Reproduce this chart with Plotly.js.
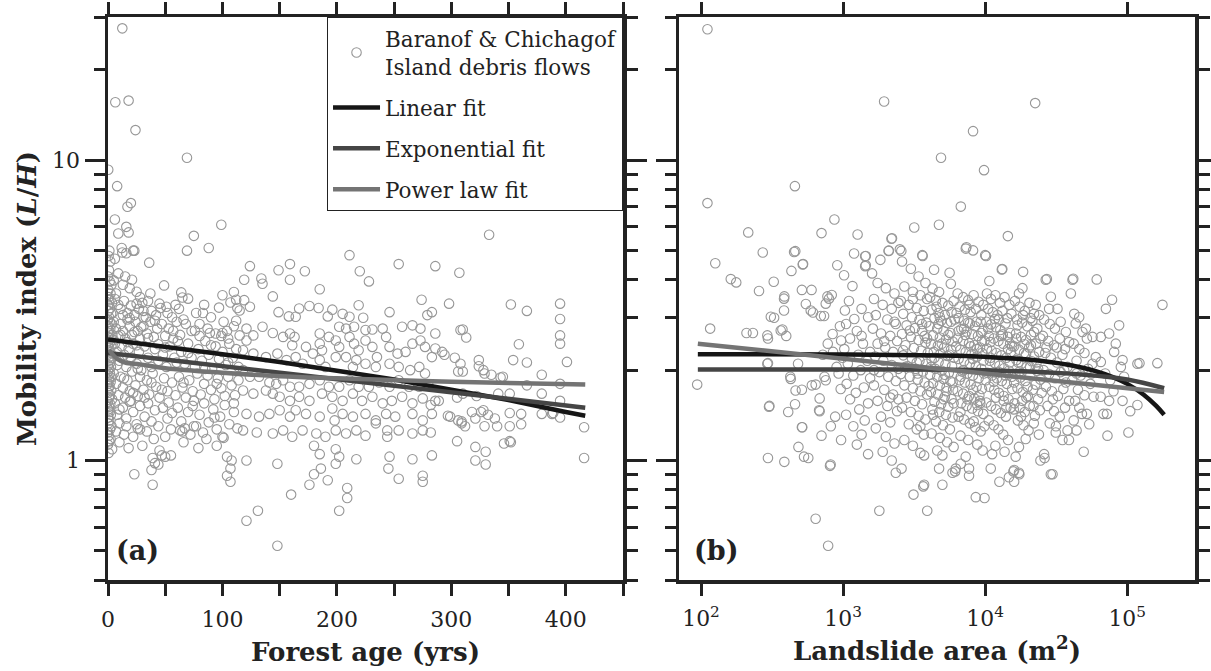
<!DOCTYPE html>
<html>
<head>
<meta charset="utf-8">
<script src="https://cdn.plot.ly/plotly-3.0.1.min.js"></script>
<style>html,body{margin:0;padding:0;background:#fff;}#chart{width:1211px;height:671px;}</style>
</head>
<body>
<div id="chart"></div>
<script>
// ---------- Panel (a): forest age (yrs) vs mobility index L/H ----------
const ageZeroStand = [[0.2,9.3],[1.2,5.0],[0.5,4.8],[2,4.6],[0.8,4.3],[0,4.1],[1.5,3.95],[3,3.85],[0.3,3.7],[2.2,3.6],[0.6,3.5],[1,3.42],[3.5,3.35],[0,3.3],[1.8,3.22],[0.4,3.15],[2.7,3.08],[0.9,3.0],[0,2.95],[1.5,2.9],[3.2,2.85],[0.2,2.8],[2,2.75],[0.7,2.7],[1.2,2.65],[3.8,2.62],[0,2.58],[2.4,2.55],[0.5,2.5],[1.6,2.47],[0.1,2.42],[2.9,2.4],[1,2.36],[0.3,2.32],[2.1,2.29],[0,2.25],[1.4,2.22],[3.3,2.19],[0.6,2.15],[1.9,2.12],[0.2,2.08],[2.6,2.05],[1.1,2.02],[0,1.98],[1.7,1.95],[0.4,1.92],[3,1.89],[0.8,1.86],[2.3,1.83],[0,1.8],[1.3,1.77],[0.5,1.74],[2.8,1.71],[0.1,1.68],[1.6,1.65],[0.7,1.62],[3.6,1.6],[0,1.57],[2,1.54],[0.9,1.51],[0.3,1.48],[1.5,1.45],[2.5,1.42],[0,1.39],[1,1.36],[0.4,1.33],[3.1,1.3],[1.8,1.27],[0,1.24],[0.6,1.21],[2.2,1.18],[1.1,1.16],[0,1.13],[3.6,1.09],[0.5,1.06]];
const youngStand = [[12.5,27.5],[6.4,15.6],[18,15.8],[24,12.6],[8,8.2],[20,7.2],[17,7.0],[6,6.35],[16,6.0],[18,5.75],[9,5.7],[23,5.0],[12.5,4.93],[36,4.56],[49,3.83],[12,5.1],[16,4.9],[22,5.0],[6,4.7],[9,4.2],[15,4.1],[21,4.0],[5,3.98],[13,3.85],[19,3.75],[25,3.65],[37,3.6],[28,3.5],[35,3.4],[45,3.33],[51,3.25],[25,3.33],[31,3.15],
[6,3.45],[9,3.3],[11,3.2],[14,3.4],[17,3.1],[20,3.28],[23,3.05],[27,3.2],[30,3.35],[33,3.0],[38,3.15],[42,3.05],[46,3.22],[52,3.1],[56,3.0],[59,3.3],
[5,2.9],[7,2.75],[9,2.6],[11,2.85],[13,2.7],[15,2.55],[17,2.95],[19,2.8],[21,2.62],[24,2.9],[26,2.7],[28,2.55],[31,2.8],[34,2.65],[37,2.9],[40,2.58],[43,2.75],[47,2.85],[50,2.6],[53,2.75],[57,2.55],[60,2.9],
[6,2.45],[8,2.3],[10,2.15],[12,2.4],[14,2.25],[16,2.05],[18,2.35],[20,2.2],[22,2.45],[25,2.1],[27,2.3],[29,2.0],[32,2.4],[35,2.2],[38,2.05],[41,2.35],[44,2.15],[48,2.25],[51,2.05],[54,2.4],[58,2.2],
[5,1.95],[7,1.8],[9,1.65],[11,1.9],[13,1.75],[15,1.62],[17,1.85],[19,1.7],[21,1.98],[24,1.78],[26,1.64],[28,1.9],[31,1.72],[34,1.85],[36,1.66],[39,1.95],[42,1.76],[45,1.62],[49,1.88],[52,1.7],[56,1.82],[59,1.65],
[6,1.55],[8,1.42],[10,1.33],[13,1.5],[16,1.38],[19,1.57],[22,1.45],[25,1.32],[28,1.52],[32,1.4],[35,1.55],[38,1.35],[41,1.47],[44,1.3],[48,1.5],[52,1.38],[56,1.44],
[7,1.25],[10,1.15],[14,1.22],[18,1.1],[22,1.2],[26,1.28],[30,1.12],[34,1.25],[40,1.18],[45,1.08],[50,1.2],[55,1.27],
[23,0.9],[38,0.93],[39,0.83],[44,0.97],[50,1.03],[55,1.04],[39,1.02],[41,0.98],[47,1.04],
[5,2.52],[8,2.08],[11,2.62],[14,1.88],[17,2.48],[20,1.58],[23,2.68],[26,2.02],[29,2.78],[32,1.62],[35,2.56],[38,1.82],[41,2.92],[44,2.44],[47,1.72],[50,2.38],[53,1.56],[57,2.7],[4,3.1],[7,3.6],[10,1.48],[13,3.05],[16,1.3],[19,2.98],[22,1.68],[25,2.42],[28,1.27],[31,3.0]];
const midStand = [[69,10.2],[99,6.1],[75,5.6],[88,5.1],[69,5.0],[64,3.63],[65,3.49],[100,3.55],[110,3.64],[112,3.43],
[62,3.2],[66,2.95],[70,3.46],[73,2.7],[77,3.1],[80,2.85],[84,3.3],[83,3.1],[87,2.75],[90,3.0],[94,2.65],[97,3.23],[101,2.9],[104,2.7],[107,3.36],[110,2.8],[113,3.22],[76,2.71],[89,2.66],[99,2.6],[68,2.85],[105,2.55],[112,2.92],
[61,2.5],[64,2.3],[67,2.1],[70,2.45],[73,2.2],[76,2.05],[79,2.35],[82,2.15],[85,2.5],[88,2.25],[91,2.02],[94,2.4],[97,2.18],[100,2.3],[103,2.08],[106,2.45],[109,2.2],[112,2.35],[114,2.05],
[62,1.9],[65,1.75],[68,1.62],[71,1.85],[74,1.7],[78,1.95],[81,1.66],[84,1.8],[87,1.92],[90,1.72],[93,1.6],[96,1.88],[99,1.74],[102,1.64],[105,1.9],[108,1.78],[111,1.65],[114,1.85],
[61,1.5],[64,1.35],[67,1.28],[70,1.45],[74,1.52],[77,1.3],[80,1.42],[84,1.55],[88,1.34],[92,1.48],[95,1.27],[98,1.4],[102,1.53],[106,1.32],[110,1.45],[113,1.28],
[66,1.15],[72,1.22],[79,1.1],[86,1.18],[95,1.12],[100,1.2],[104,1.03],[107,0.94],[104,0.89],[107,0.85],[108,1.0],[65,1.25],[63,1.26],[75,1.3],[83,1.24],[93,1.39],[101,1.19],
[60,2.12],[63,2.62],[66,1.82],[70,2.28],[75,1.58],[80,2.6],[85,2.02],[90,2.42],[95,1.8],[100,2.66],[105,2.12],[110,1.55]];
const matureStand = [[124,4.44],[119,4.00],[134,4.04],[135,3.88],[149,4.30],[159,4.51],[159,4.00],[172,4.27],[211,4.83],[220,4.27],[228,3.95],[254,4.51],[286,4.44],[185,3.72],[144,3.52],[274,3.43],[246,3.12],[119,3.42],[124,3.25],[115,3.16],[149,3.12],[158,3.02],[167,3.21],[176,3.27],[184,3.22],[164,3.01],[192,3.02],[196,3.18],[205,3.08],[211,3.01],[219,3.29],[223,2.99],[202,2.79],[208,2.75],[215,2.79],[225,2.72],[231,2.73],[240,2.75],[257,2.79],[266,2.82],[273,2.75],[279,3.05],[283,3.12],[286,2.65],
[135,2.79],[144,2.66],[127,2.61],[121,2.51],[121,2.75],[115,2.61],[153,2.58],[159,2.65],[163,2.58],[161,2.42],[173,2.39],[179,2.27],[185,2.65],[185,2.45],[187,2.33],[193,2.58],[199,2.51],[202,2.39],[211,2.58],[215,2.45],[219,2.33],[225,2.51],[231,2.39],[235,2.21],[243,2.58],[246,2.39],[253,2.27],[260,2.30],[266,2.45],[273,2.51],[277,2.39],[283,2.21],[286,2.36],
[118,2.33],[127,2.27],[138,2.21],[148,2.27],[156,2.16],[164,2.21],[170,2.10],[185,2.16],[190,2.05],[199,2.21],[208,2.21],[217,2.16],[214,2.05],[225,2.10],[234,2.05],[246,2.10],[254,2.05],[264,2.00],[272,2.05],[277,1.95],
[118,2.00],[124,1.90],[132,1.90],[141,1.82],[147,1.80],[153,1.85],[159,1.76],[167,1.76],[176,1.80],[185,1.85],[193,1.76],[202,1.76],[211,1.85],[219,1.76],[228,1.76],[237,1.82],[246,1.76],[254,1.85],[263,1.76],[272,1.76],[280,1.78],[286,1.58],
[118,1.71],[127,1.67],[138,1.71],[144,1.67],[150,1.63],[159,1.58],[167,1.63],[176,1.58],[187,1.67],[196,1.63],[205,1.58],[214,1.67],[222,1.58],[231,1.63],[240,1.55],[248,1.58],[257,1.63],[266,1.55],[275,1.61],[282,1.53],
[121,1.43],[132,1.40],[141,1.43],[150,1.47],[159,1.40],[164,1.47],[173,1.43],[185,1.40],[196,1.49],[198,1.36],[205,1.43],[214,1.40],[225,1.43],[234,1.36],[243,1.43],[251,1.40],[266,1.43],[275,1.36],[283,1.43],
[118,1.26],[130,1.24],[144,1.23],[153,1.26],[161,1.20],[170,1.26],[182,1.23],[190,1.20],[199,1.26],[208,1.23],[217,1.26],[225,1.21],[234,1.33],[244,1.26],[244,1.20],[254,1.26],[266,1.23],[275,1.26],[282,1.24],
[121,1.00],[148,0.975],[180,1.12],[185,1.05],[199,1.09],[202,1.03],[217,1.01],[246,1.03],[266,1.01],[283,1.04],[180,0.90],[186,0.94],[192,0.86],[199,0.975],[176,0.83],[160,0.77],[209,0.81],[209,0.75],[254,0.87],[275,0.89],[275,0.85],[245,0.94],
[131,0.68],[121,0.63],[202,0.68],[148,0.52]];
const oldStand = [[333,5.65],[307,4.22],[298,3.33],[352,3.31],[366,3.15],[395,3.33],[395,2.96],[395,2.61],[395,2.45],[308,2.72],[313,2.57],[359,2.44],[401,2.13],[354,2.16],[366,2.12],[292,2.3],[294,2.25],[303,2.2],[308,2.1],[306,1.98],[310,1.98],[324,2.16],[324,2.06],[328,2.0],[329,1.95],[335,1.93],[345,1.9],[379,1.93],[366,1.78],[395,1.8],[289,1.58],[305,1.62],[310,1.67],[322,1.64],[341,1.67],[351,1.67],[379,1.67],[395,1.58],[299,1.4],[306,1.36],[309,1.33],[312,1.3],[318,1.45],[326,1.45],[328,1.47],[332,1.42],[338,1.38],[340,1.3],[329,1.3],[321,1.38],[351,1.44],[351,1.3],[361,1.43],[361,1.32],[379,1.43],[388,1.43],[395,1.39],[416,1.29],[416,1.02],[305,1.16],[351,1.16],[321,1.11],[330,1.07],[321,1.0],[330,0.97],[310,2.73],[343,1.89],[346,1.14],[352,1.15],[309,1.35],[297,1.41],[389,1.44]];

// fitted curves, panel (a)
const linFitAge = [0,50,100,150,200,250,300,350,400,417];
const linFitMob = [2.53,2.40,2.26,2.13,1.99,1.86,1.72,1.59,1.45,1.41];
const expFitAge = [0,100,200,300,417];
const expFitMob = [2.28,2.06,1.87,1.69,1.50];
const powFitAge = [1,3,8,15,28,50,100,150,200,300,417];
const powFitMob = [2.34,2.28,2.18,2.12,2.09,2.03,1.96,1.91,1.88,1.83,1.79];

// ---------- Panel (b): landslide area (m2) vs mobility index ----------
const smallSlides = [[111,27.3],[458,8.2],[111,7.2],[869,6.35],[215,5.75],[705,5.72],[126,4.54],[272,4.93],[461,4.98],[520,4.5],[433,4.28],[910,4.47],[162,4.02],[177,3.92],[256,3.67],[325,3.94],[386,3.52],[513,3.7],[600,3.7],[796,3.46],[116,2.75],[209,2.66],[232,2.66],[296,2.55],[310,3.01],[374,2.73],[398,2.6],[547,3.32],[614,3.11],[844,2.64],[969,2.51],[296,2.11],[94,1.79],[303,1.52],[425,1.9],[482,2.1],[513,1.72],[411,1.45],[603,1.78],[684,1.61],[684,1.46],[513,1.29],[485,1.11],[705,1.21],[968,1.17],[296,1.02],[386,0.99],[569,1.02],[817,0.97],[641,0.64],[785,0.52],
[452,4.95],[523,4.51],[384,3.46],[384,3.16],[327,2.99],[293,2.61],[364,2.71],[592,3.16],[697,3.03],[735,3.03],[776,3.52],[832,3.56],[755,3.33],[293,2.1],[428,1.87],[463,1.71],[641,1.79],[755,1.85],[962,1.73],[678,1.47],[459,1.54],[301,1.51],[516,1.29],[531,1.03],[809,0.96],[850,2.3],[900,2.05],[780,2.45],[930,1.95],[880,1.4],[720,2.25],[950,2.8],[820,1.3],[990,2.2],[740,1.9]];
const slides1e3 = [[1016,4.14],[1164,3.81],[1430,4.44],[1195,4.89],[1430,4.79],[1265,5.66],[1445,4.8],[1445,4.47],[1030,3.16],[1200,2.96],[1100,3.4],[1350,3.2],[1050,2.85],[1250,2.7],[1500,3.0],[1120,2.55],[1380,2.45],[1020,2.35],[1280,2.25],[1480,2.15],[1080,2.1],[1330,2.0],[1180,1.92],[1550,1.88],[1060,1.8],[1400,1.75],[1230,1.68],[1120,1.6],[1500,1.55],[1300,1.48],[1050,1.42],[1420,1.36],[1180,1.3],[1350,1.22],[1250,1.13],[1500,1.05],
[1945,15.7],[2210,5.5],[1830,4.66],[2100,5.0],[2190,5.48],[2090,4.99],[1600,4.2],[1750,3.9],[2000,3.75],[2300,3.6],[1650,3.45],[1900,3.3],[2200,3.2],[2450,3.35],[1700,3.05],[2050,2.95],[2350,2.85],[1620,2.75],[1850,2.65],[2150,2.6],[2400,2.5],[1750,2.45],[1980,2.38],[2250,2.3],[1680,2.22],[1920,2.15],[2200,2.08],[2450,2.02],[1800,1.97],[2080,1.9],[2350,1.84],[1650,1.78],[1950,1.72],[2250,1.66],[1750,1.58],[2050,1.52],[2400,1.46],[1850,1.4],[2150,1.34],[1700,1.28],[2000,1.2],[2300,1.14],[1900,1.07],[2350,0.91],[1800,0.68],[2200,1.0]];
const slides3e3 = [[3170,5.97],[2510,5.05],[3630,4.8],[3610,4.83],[2570,4.99],[2600,4.6],[3000,4.35],[3400,4.1],[3800,3.9],[2700,3.8],[3100,3.65],[3500,3.55],[3900,3.45],[2550,3.4],[2900,3.3],[3300,3.22],[3700,3.15],[2650,3.08],[3050,3.0],[3450,2.94],[3850,2.88],[2800,2.82],[3200,2.76],[3600,2.7],[2600,2.64],[3000,2.58],[3400,2.52],[3800,2.47],[2750,2.42],[3150,2.37],[3550,2.32],[3950,2.28],[2650,2.24],[3050,2.19],[3450,2.15],[3850,2.1],[2850,2.06],[3250,2.02],[3650,1.98],[2550,1.94],[2950,1.9],[3350,1.86],[3750,1.82],[2700,1.78],[3100,1.74],[3500,1.7],[3900,1.66],[2800,1.62],[3200,1.58],[3600,1.54],[2600,1.5],[3000,1.45],[3400,1.41],[3800,1.37],[2900,1.32],[3300,1.27],[3700,1.22],[2700,1.17],[3100,1.12],[3500,1.06],[2580,0.94],[3130,0.77],[3670,0.82],[3910,0.68],[3720,1.04],[3720,0.83],
[4890,10.2],[4730,6.1],[4370,4.32],[5620,4.22],[5730,3.88],[4260,3.74],[4740,3.64],[6150,0.92],[5000,0.83],[5000,1.04],[4740,0.94],[5890,0.91],[6210,0.94],
[4100,3.5],[4500,3.42],[5000,3.35],[5500,3.28],[6000,3.4],[4200,3.18],[4700,3.1],[5200,3.05],[5800,3.12],[4400,2.98],[4900,2.92],[5400,2.87],[6100,2.95],[4050,2.8],[4600,2.75],[5100,2.7],[5700,2.66],[4300,2.61],[4800,2.57],[5300,2.53],[5900,2.49],[4150,2.45],[4650,2.41],[5150,2.38],[5750,2.34],[4350,2.3],[4850,2.27],[5450,2.23],[6050,2.2],[4200,2.16],[4700,2.13],[5250,2.09],[5850,2.06],[4450,2.02],[4950,1.99],[5550,1.96],[4100,1.93],[4600,1.9],[5100,1.87],[5700,1.84],[4300,1.81],[4800,1.78],[5350,1.75],[5950,1.72],[4150,1.69],[4650,1.66],[5200,1.63],[5800,1.6],[4400,1.57],[4900,1.54],[5500,1.51],[4250,1.48],[4750,1.45],[5300,1.42],[5900,1.39],[4500,1.35],[5050,1.31],[5650,1.27],[4200,1.23],[4800,1.19],[5400,1.15],[6000,1.11],[4600,1.08]];
const slides1e4 = [[8220,12.5],[9820,9.27],[6740,7.01],[7380,5.13],[8220,5.01],[7310,5.08],[9900,0.75],[8590,0.755],[7700,0.94],[6730,0.975],[7700,0.89],
[6400,3.6],[7000,3.5],[7600,3.42],[8300,3.55],[9000,3.38],[9700,3.3],[6600,3.25],[7200,3.18],[7900,3.12],[8600,3.2],[9400,3.05],[6500,2.98],[7100,2.92],[7800,2.86],[8500,2.8],[9300,2.9],[6800,2.74],[7400,2.69],[8100,2.64],[8900,2.6],[9600,2.7],[6400,2.55],[7000,2.5],[7700,2.46],[8400,2.42],[9200,2.38],[9900,2.5],[6700,2.34],[7300,2.3],[8000,2.26],[8800,2.22],[9500,2.28],[6500,2.18],[7100,2.14],[7800,2.1],[8600,2.06],[9400,2.02],[6900,1.98],[7500,1.95],[8200,1.92],[9000,1.88],[9800,1.95],[6600,1.85],[7200,1.82],[7900,1.79],[8700,1.76],[9500,1.73],[6400,1.7],[7000,1.67],[7700,1.64],[8400,1.61],[9200,1.58],[6800,1.55],[7400,1.52],[8100,1.49],[8900,1.46],[9700,1.43],[6500,1.4],[7100,1.37],[7800,1.33],[8500,1.29],[9300,1.25],[6700,1.21],[7600,1.17],[8800,1.13],[9600,1.08],[7300,1.03],
[10000,4.83],[10140,4.8],[13200,4.34],[13100,4.33],[14450,5.59],[10700,3.96],[12600,0.85],[11200,1.05],[10950,0.94],[14700,0.88],
[10300,3.6],[11000,3.45],[11800,3.55],[12700,3.35],[13700,3.5],[14800,3.3],[10500,3.2],[11300,3.12],[12200,3.05],[13200,3.15],[14300,2.98],[15300,3.08],[10200,2.9],[11000,2.84],[11900,2.78],[12800,2.72],[13900,2.86],[15000,2.66],[10600,2.6],[11500,2.55],[12400,2.5],[13400,2.45],[14500,2.58],[15500,2.4],[10300,2.36],[11100,2.32],[12000,2.28],[13000,2.24],[14100,2.2],[15200,2.3],[10800,2.15],[11700,2.11],[12600,2.07],[13600,2.03],[14700,1.99],[10400,1.96],[11200,1.92],[12100,1.88],[13100,1.84],[14200,1.8],[15400,1.9],[10700,1.76],[11600,1.72],[12500,1.68],[13500,1.64],[14600,1.6],[10200,1.56],[11000,1.52],[11900,1.48],[12900,1.44],[14000,1.4],[15100,1.5],[10600,1.36],[11500,1.31],[12400,1.27],[13400,1.22],[14500,1.17],[11800,1.12],[13700,1.07]];
const slides2e4 = [[22500,15.5],[18500,4.25],[18300,3.75],[17300,3.6],[22700,3.3],[22100,3.08],[24000,3.05],[19300,1.18],[17300,1.11],[16400,1.03],[16000,0.93],[17300,0.91],[24500,1.0],[26200,1.02],[26000,1.05],[17400,0.9],[16000,0.85],[15800,0.92],
[16200,3.4],[17500,3.25],[19000,3.15],[20500,3.35],[16800,2.95],[18200,2.88],[19800,2.8],[21500,2.92],[23300,2.75],[16500,2.65],[17900,2.58],[19400,2.52],[21000,2.62],[22800,2.45],[24500,2.55],[16000,2.4],[17300,2.34],[18800,2.28],[20400,2.38],[22100,2.22],[24000,2.3],[16600,2.16],[18000,2.1],[19600,2.05],[21300,2.14],[23100,1.99],[16300,1.94],[17700,1.89],[19200,1.84],[20800,1.92],[22600,1.79],[24500,1.86],[16900,1.74],[18400,1.69],[20000,1.64],[21700,1.72],[23600,1.6],[16100,1.55],[17500,1.5],[19000,1.45],[20600,1.52],[22400,1.41],[24300,1.47],[17000,1.36],[18600,1.31],[20200,1.26],[22000,1.33],[23900,1.22],
[27200,4.02],[26700,4.0],[29000,3.51],[28200,3.2],[32300,3.2],[40100,3.6],[38900,1.17],[35000,1.17],[31400,1.24],[38000,1.26],[29000,0.9],[29800,0.9],
[26000,2.95],[28500,2.85],[31000,2.75],[34000,2.9],[37000,2.68],[25500,2.6],[27800,2.5],[30500,2.42],[33500,2.55],[36500,2.35],[39000,2.48],[26500,2.28],[29000,2.2],[32000,2.12],[35000,2.25],[38000,2.05],[25800,2.0],[28200,1.94],[31000,1.88],[34000,1.97],[37000,1.82],[26800,1.76],[29500,1.7],[32500,1.64],[35500,1.73],[39000,1.58],[27500,1.52],[30500,1.46],[33500,1.4],[36500,1.5],[28500,1.33],[31500,1.3]];
const coreSlidesExtra = [[2300,2.9],[2650,2.33],[2950,2.71],[3350,1.95],[3750,2.6],[4150,2.05],[4550,3.25],[4950,2.45],[5350,1.7],[5750,2.9],[6250,2.4],[6750,1.9],[7250,2.62],[7750,3.3],[8250,1.72],[8750,2.35],[9250,1.55],[9750,2.15],[10500,2.75],[11500,1.83],[12500,2.95],[13500,1.58],[14500,2.35],[15500,1.73],[16500,2.55],[17500,1.98],[18500,3.05],[19500,1.62],[21000,2.42],[23000,2.12],[25000,1.68],[27000,2.38],[3100,3.45],[3500,1.3],[3900,2.55],[4300,1.42],[4700,2.85],[5100,1.6],[5500,2.62],[5900,1.82],[6300,3.1],[6700,1.45],[7100,2.75],[7500,1.6],[7900,2.4],[8300,1.35],[8700,2.9],[9100,1.65],[9500,2.5],[9900,1.3],[10900,2.2],[11900,1.62],[12900,2.6],[13900,1.92],[14900,2.12],[15900,1.48],[16900,2.82],[17900,1.4],[18900,2.44],[19900,1.76],[20900,2.98],[21900,1.52],[3300,2.12],[3600,2.85],[4000,1.77],[4400,2.2],[4800,3.0],[5200,1.93],[5600,2.25],[6000,1.55],[6500,2.7],[7000,2.0],[7600,2.88],[8200,2.18],[8800,1.53],[9400,2.66],[10100,1.85],[10900,2.48],[11700,2.96],[12500,1.97],[13300,2.63],[14100,1.5],[15000,2.45],[16000,1.82],[17100,2.12],[18200,1.58],[19400,2.26],[20700,2.05],[22100,2.68],[23600,2.02],[2450,1.6],[2750,2.05],[1950,2.5],[2150,1.62],[1650,2.0],[1350,2.6],[1550,2.3],[32000,2.38],[36000,2.0],[30000,1.6],[44000,1.95],[52000,2.55]];
const largeSlides = [[41700,4.03],[41200,4.0],[42400,3.08],[45900,3.0],[43400,2.86],[51200,2.75],[48400,2.68],[57000,2.58],[60100,2.21],[57000,2.1],[49400,1.07],[61000,4.01],[56000,1.95],
[42000,2.45],[46000,2.35],[50000,2.28],[44000,2.15],[53000,2.02],[47000,1.92],[41000,1.85],[55000,1.8],[45000,1.72],[50000,1.65],[43000,1.58],[58000,1.63],[48000,1.43],[52000,1.43],[46000,1.5],[42000,1.36],[54000,1.32],[44000,1.26],
[78200,3.43],[70800,3.2],[177000,3.3],[87700,2.82],[65200,2.58],[74600,2.65],[83100,2.45],[80900,2.3],[92700,2.16],[118000,2.1],[163000,2.11],[122000,2.11],[90200,2.05],[65200,2.13],[70000,1.95],[76000,1.85],[92700,1.58],[118000,1.53],[74600,1.58],[65000,1.63],[68000,1.43],[72000,1.43],[72600,1.21],[102000,1.24],[80000,1.7],[95000,1.9],[105000,1.46]];

// fitted curves, panel (b)
const linFitArea = [95,1000,5000,10000,20000,40000,60000,80000,100000,130000,160000,182000];
const linFitMobB = [2.26,2.255,2.237,2.214,2.168,2.076,1.984,1.892,1.80,1.66,1.52,1.42];
const expFitArea = [95,1000,10000,50000,100000,182000];
const expFitMobB = [2.01,2.01,2.0,1.93,1.86,1.74];
const powFitArea = [95,1000,10000,100000,182000];
const powFitMobB = [2.45,2.18,1.95,1.74,1.69];

// axis ticks
const majorMobTicks = [1, 10];
const majorMobLabels = ['1', '10'];
const minorMobTicks = [0.4,0.5,0.6,0.7,0.8,0.9,2,3,4,5,6,7,8,9,20,30];

const standA = [].concat(ageZeroStand, youngStand, midStand, matureStand, oldStand);
const slidesB = [].concat(smallSlides, slides1e3, slides3e3, slides1e4, slides2e4, coreSlidesExtra, largeSlides);

const ink = '#222222';
const ptColor = '#979797';
const cLin = '#161616', cExp = '#454545', cPow = '#747474';
const markerStyle = {symbol: 'circle-open', size: 9.5, color: ptColor, line: {width: 1.1, color: ptColor}};

const traces = [
  {x: standA.map(p => p[0]), y: standA.map(p => p[1]), type: 'scatter', mode: 'markers', marker: markerStyle,
   name: 'Baranof &amp; Chichagof<br>Island debris flows', xaxis: 'x', yaxis: 'y', legendgroup: 'g1'},
  {x: linFitAge, y: linFitMob, type: 'scatter', mode: 'lines', line: {color: cLin, width: 4.5}, name: 'Linear fit', xaxis: 'x', yaxis: 'y', legendgroup: 'g2'},
  {x: expFitAge, y: expFitMob, type: 'scatter', mode: 'lines', line: {color: cExp, width: 4.5}, name: 'Exponential fit', xaxis: 'x', yaxis: 'y', legendgroup: 'g3'},
  {x: powFitAge, y: powFitMob, type: 'scatter', mode: 'lines', line: {color: cPow, width: 4.5, shape: 'spline'}, name: 'Power law fit', xaxis: 'x', yaxis: 'y', legendgroup: 'g4'},
  {x: slidesB.map(p => p[0]), y: slidesB.map(p => p[1]), type: 'scatter', mode: 'markers', marker: markerStyle, showlegend: false, xaxis: 'x2', yaxis: 'y2'},
  {x: linFitArea, y: linFitMobB, type: 'scatter', mode: 'lines', line: {color: cLin, width: 4.5, shape: 'spline'}, showlegend: false, xaxis: 'x2', yaxis: 'y2'},
  {x: expFitArea, y: expFitMobB, type: 'scatter', mode: 'lines', line: {color: cExp, width: 4.5, shape: 'spline'}, showlegend: false, xaxis: 'x2', yaxis: 'y2'},
  {x: powFitArea, y: powFitMobB, type: 'scatter', mode: 'lines', line: {color: cPow, width: 4.5}, showlegend: false, xaxis: 'x2', yaxis: 'y2'}
];

const yRange = [Math.log10(0.4), Math.log10(30)];
function yAxisDef(showLabels, title) {
  const ax = {
    type: 'log', range: yRange, tickmode: 'array', tickvals: majorMobTicks, ticktext: majorMobLabels,
    showticklabels: showLabels, ticks: 'outside', ticklen: 20, tickwidth: 3, tickcolor: ink,
    showline: true, linewidth: 3.5, linecolor: ink, mirror: 'ticks', showgrid: false, zeroline: false,
    tickfont: {size: 22},
    minor: {tickmode: 'array', tickvals: minorMobTicks, ticks: 'outside', ticklen: 11, tickwidth: 3, tickcolor: ink, showgrid: false}
  };
  if (title) ax.title = {text: title, font: {size: 26}, standoff: 9};
  return ax;
}

const layout = {
  width: 1211, height: 671,
  margin: {l: 108, r: 16, t: 17, b: 91},
  paper_bgcolor: '#ffffff', plot_bgcolor: '#ffffff',
  font: {family: 'DejaVu Serif', size: 20, color: ink},
  showlegend: true,
  legend: {x: 0.4738, xanchor: 'right', y: 1, yanchor: 'top', bgcolor: '#ffffff', bordercolor: ink, borderwidth: 1,
           font: {size: 21.5, color: ink}, traceorder: 'grouped', tracegroupgap: 10, itemwidth: 47},
  xaxis: {domain: [0, 0.4738], anchor: 'y', range: [0, 450], tickmode: 'linear', tick0: 0, dtick: 100,
          ticks: 'outside', ticklen: 12, tickwidth: 3, tickcolor: ink, showline: true, linewidth: 3.5, linecolor: ink,
          mirror: 'ticks', showgrid: false, zeroline: false, tickfont: {size: 22}, ticklabelstandoff: 5,
          minor: {tick0: 0, dtick: 50, ticks: 'outside', ticklen: 12, tickwidth: 3, tickcolor: ink, showgrid: false},
          title: {text: '<b>Forest age (yrs)</b>', font: {size: 26}, standoff: 13}},
  yaxis: yAxisDef(true, '<b>Mobility index (<i>L</i>/<i>H</i>)</b>'),
  xaxis2: {domain: [0.5253, 1], anchor: 'y2', type: 'log', range: [Math.log10(70), Math.log10(3e5)], tickmode: 'linear', tick0: 0, dtick: 1,
           exponentformat: 'power', ticks: 'outside', ticklen: 12, tickwidth: 3, tickcolor: ink, showline: true, linewidth: 3.5, linecolor: ink,
           mirror: 'ticks', showgrid: false, zeroline: false, tickfont: {size: 17.5}, ticklabelstandoff: 5,
           title: {text: '<b>Landslide area (m<sup>2</sup>)</b>', font: {size: 26}, standoff: 13}},
  yaxis2: Object.assign(yAxisDef(false, null), {anchor: 'x2'}),
  annotations: [
    {text: '<b>(a)</b>', xref: 'x domain', yref: 'y domain', x: 0.012, y: 0.052, xanchor: 'left', yanchor: 'middle', showarrow: false, font: {size: 27, color: ink}},
    {text: '<b>(b)</b>', xref: 'x2 domain', yref: 'y2 domain', x: 0.025, y: 0.052, xanchor: 'left', yanchor: 'middle', showarrow: false, font: {size: 27, color: ink}}
  ]
};

Plotly.newPlot('chart', traces, layout, {staticPlot: true, displayModeBar: false});
</script>
</body>
</html>
